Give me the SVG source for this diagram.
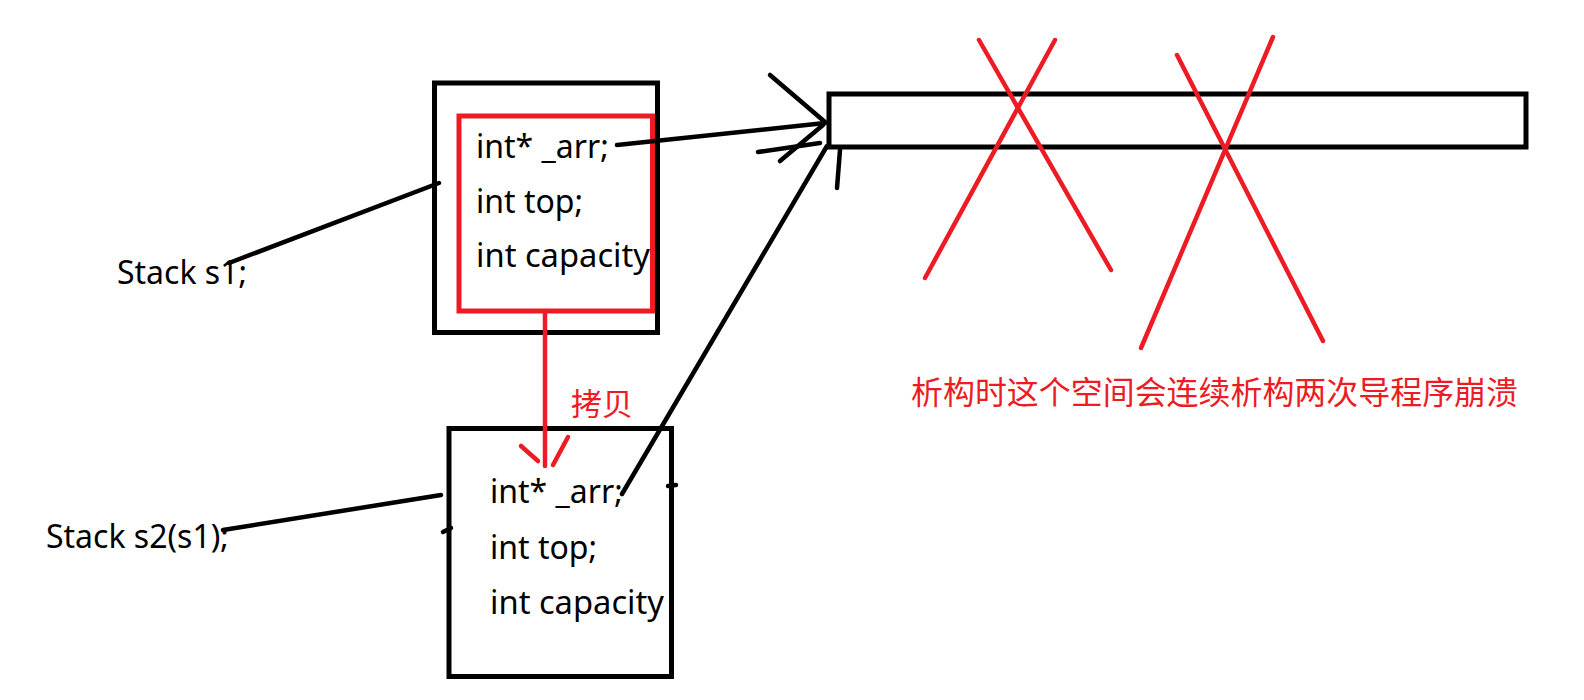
<svg xmlns="http://www.w3.org/2000/svg" width="1584" height="700" viewBox="0 0 1584 700">
<style>
.bg{fill:#fff}
.box{fill:none;stroke:#000;stroke-width:5}
.rbox{fill:none;stroke:#ED1C24;stroke-width:5}
.code{font-family:"Noto Sans","Open Sans",sans-serif;font-size:32px;fill:#000}
.cn{font-family:"Noto Sans CJK SC",sans-serif;fill:#ED1C24}
.ink{fill:none;stroke:#000;stroke-width:4.5;stroke-linecap:round}
.red{fill:none;stroke:#ED1C24;stroke-width:4.5;stroke-linecap:round}
</style>
<rect class="bg" x="0" y="0" width="1584" height="700"/>

<g id="label-s1"><text class="code" x="117" y="284">Stack s1;</text></g>
<g id="label-s2"><text class="code" x="46" y="548">Stack s2(s1);</text></g>

<g id="s1">
<rect class="box" x="434.5" y="83" width="223" height="249.5"/>
<rect class="rbox" x="459" y="116" width="193.5" height="195"/>
<text class="code" x="476" y="158">int* _arr;</text>
<text class="code" x="476" y="213">int top;</text>
<text class="code" x="476" y="267" textLength="174" lengthAdjust="spacingAndGlyphs">int capacity</text>
</g>

<g id="s2">
<rect class="box" x="449" y="428.5" width="222.5" height="248"/>
<text class="code" x="490" y="503">int* _arr;</text>
<text class="code" x="490" y="559">int top;</text>
<text class="code" x="490" y="614" textLength="174" lengthAdjust="spacingAndGlyphs">int capacity</text>
</g>

<g id="heap">
<rect class="box" x="829" y="94" width="697" height="53"/>
</g>

<g id="crosses">
<line class="red" x1="979" y1="40" x2="1111" y2="270"/>
<line class="red" x1="1055" y1="40" x2="925" y2="278"/>
<line class="red" x1="1177" y1="55" x2="1323" y2="341"/>
<line class="red" x1="1273" y1="37" x2="1141" y2="348"/>
</g>

<g id="note">
<text class="cn" x="911" y="404" font-size="32" textLength="607" lengthAdjust="spacingAndGlyphs">析构时这个空间会连续析构两次导程序崩溃</text>
</g>

<g id="copy-label">
<text class="cn" x="571" y="415" font-size="31">拷贝</text>
</g>

<g id="connectors">
<line class="ink" x1="229" y1="263" x2="439" y2="183"/>
<line class="ink" x1="223" y1="530" x2="441" y2="495"/>
<line class="ink" x1="443" y1="532" x2="451" y2="528"/>
<line class="ink" x1="668" y1="486" x2="676" y2="485"/>
<line class="ink" x1="617" y1="145" x2="825" y2="123"/>
<line class="ink" x1="770" y1="75" x2="825" y2="122"/>
<line class="ink" x1="780" y1="161" x2="823" y2="125"/>
<line class="ink" x1="758" y1="152" x2="820" y2="143"/>
<line class="ink" x1="622" y1="494" x2="827" y2="146"/>
<line class="ink" x1="840" y1="150" x2="837" y2="188"/>
<line class="red" x1="545" y1="311" x2="545" y2="466"/>
<line class="red" x1="521" y1="446" x2="538" y2="461"/>
<line class="red" x1="568" y1="437" x2="553" y2="465"/>
</g>
</svg>
